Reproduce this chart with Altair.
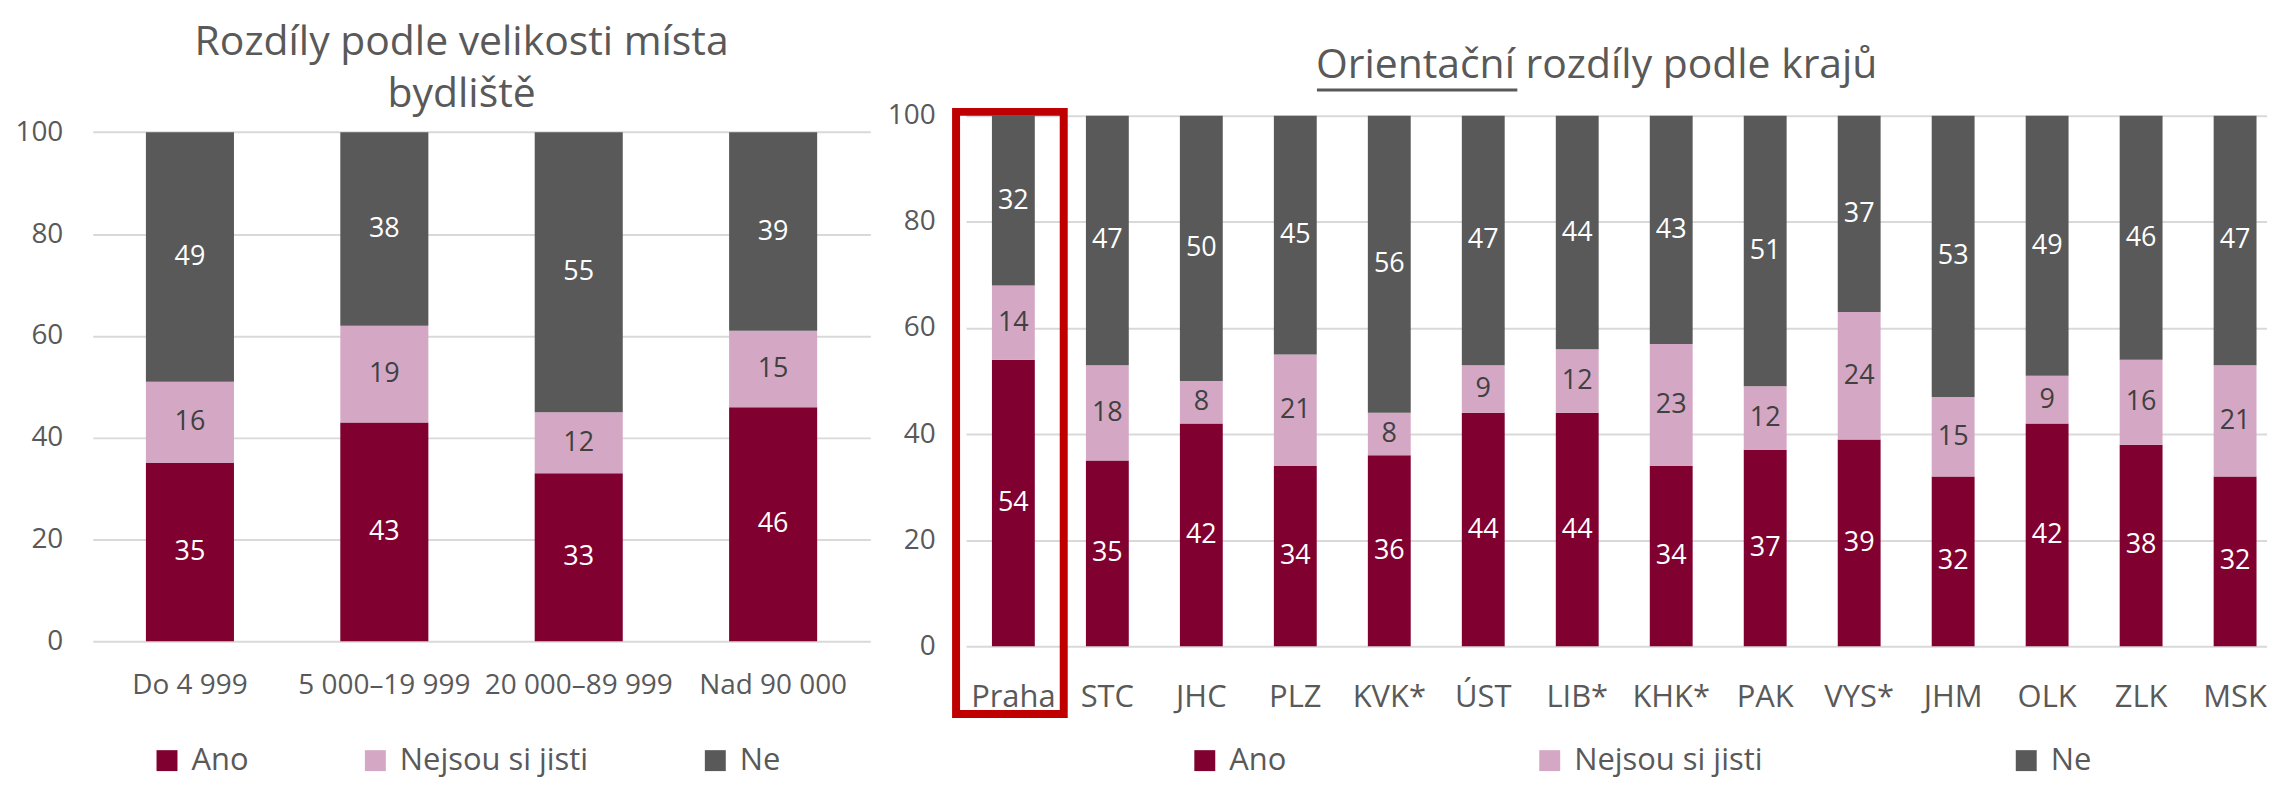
import altair as alt
import pandas as pd

# ---------------- data ----------------
SERIES = ["Ano", "Nejsou si jisti", "Ne"]
SERIES_COLORS = ["#800030", "#D4A8C4", "#595959"]

SIZE_CATEGORIES = ["Do 4 999", "5 000–19 999", "20 000–89 999", "Nad 90 000"]
SIZE_ANO = [35, 43, 33, 46]
SIZE_NEJSOU = [16, 19, 12, 15]
SIZE_NE = [49, 38, 55, 39]

REGION_CATEGORIES = ["Praha", "STC", "JHC", "PLZ", "KVK*", "ÚST", "LIB*",
                     "KHK*", "PAK", "VYS*", "JHM", "OLK", "ZLK", "MSK"]
REGION_ANO = [54, 35, 42, 34, 36, 44, 44, 34, 37, 39, 32, 42, 38, 32]
REGION_NEJSOU = [14, 18, 8, 21, 8, 9, 12, 23, 12, 24, 15, 9, 16, 21]
REGION_NE = [32, 47, 50, 45, 56, 47, 44, 43, 51, 37, 53, 49, 46, 47]

Y_TICKS = [0, 20, 40, 60, 80, 100]

LEFT_TITLE = ["Rozdíly podle velikosti místa", "bydliště"]
RIGHT_TITLE = "Orientační rozdíly podle krajů"
HIGHLIGHT = ["Praha"]

FONT = "Open Sans"
GRAY = "#595959"


def long_df(categories, ano, nejsou, ne):
    rows = []
    for i, c in enumerate(categories):
        for k, (s, vals) in enumerate(zip(SERIES, [ano, nejsou, ne])):
            rows.append({"cat": c, "series": s, "order": k, "value": vals[i]})
    return pd.DataFrame(rows)


def panel(df, cats, width, height, y_max, xscale, x_label_size, x_label_pad,
          y_label_pad, legend_x, legend_y, col_pad, title, extra=()):
    x_axis = alt.Axis(title=None, labelAngle=0, labelFont=FONT,
                      labelFontSize=x_label_size, labelColor=GRAY,
                      labelPadding=x_label_pad, ticks=False, domain=False,
                      grid=False, labelLimit=400)
    y_axis = alt.Axis(title=None, values=Y_TICKS, labelFont=FONT,
                      labelFontSize=28, labelColor=GRAY,
                      labelPadding=y_label_pad, ticks=False, domain=False,
                      grid=True, gridColor="#D9D9D9", gridWidth=2)
    y_scale = alt.Scale(domain=[0, y_max], nice=False, zero=True)
    x_enc = alt.X("cat:N", sort=cats, scale=xscale, axis=x_axis)

    bars = alt.Chart(df).mark_bar().encode(
        x=x_enc,
        y=alt.Y("value:Q", stack="zero", scale=y_scale, axis=y_axis),
        color=alt.Color(
            "series:N", sort=SERIES,
            scale=alt.Scale(domain=SERIES, range=SERIES_COLORS),
            legend=alt.Legend(
                title=None, orient="none", legendX=legend_x, legendY=legend_y,
                direction="horizontal", symbolType="square", symbolSize=441,
                symbolStrokeWidth=0, symbolOpacity=1, labelFont=FONT,
                labelFontSize=31, labelColor=GRAY, labelOffset=9,
                columnPadding=col_pad, padding=0, labelLimit=600),
        ),
        order=alt.Order("order:Q", sort="ascending"),
    )

    labels = alt.Chart(df).transform_stack(
        stack="value", groupby=["cat"], as_=["v0", "v1"],
        sort=[alt.SortField("order", order="ascending")],
    ).transform_calculate(
        mid="(datum.v0 + datum.v1) / 2"
    ).mark_text(font=FONT, fontSize=27).encode(
        x=x_enc,
        y=alt.Y("mid:Q", scale=y_scale, axis=y_axis),
        text=alt.Text("value:Q"),
        color=alt.condition("datum.series == 'Nejsou si jisti'",
                            alt.value("#404040"), alt.value("#FFFFFF")),
    )

    return alt.layer(bars, labels, *extra).properties(
        width=width, height=height, title=title)


size_df = long_df(SIZE_CATEGORIES, SIZE_ANO, SIZE_NEJSOU, SIZE_NE)
region_df = long_df(REGION_CATEGORIES, REGION_ANO, REGION_NEJSOU, REGION_NE)

# left plot area starts a little above the 100 line so both panels share a top
left = panel(
    size_df, SIZE_CATEGORIES, 780, 527, 103.23,
    alt.Scale(paddingInner=0.547, paddingOuter=0.2735),
    28, 30, 30, 59, 631, 111,
    alt.TitleParams(text=LEFT_TITLE, anchor="middle", frame="group", dx=-20,
                    offset=0, fontSize=41, font=FONT, fontWeight="normal",
                    color=GRAY, lineHeight=52),
)

highlight_box = alt.Chart(pd.DataFrame({"cat": HIGHLIGHT})).mark_rect(
    fillOpacity=0, stroke="#C00000", strokeWidth=8
).encode(x=alt.value(-10), x2=alt.value(98), y=alt.value(-4), y2=alt.value(600))

underline = alt.Chart(pd.DataFrame({"cat": HIGHLIGHT})).mark_rule(
    color=GRAY, strokeWidth=3
).encode(x=alt.value(352), x2=alt.value(553), y=alt.value(-26))

right = panel(
    region_df, REGION_CATEGORIES, 1305, 532, 100,
    alt.Scale(paddingInner=0.5439, paddingOuter=0.1936, align=0.712),
    31, 36, 31, 224, 631, 248,
    alt.TitleParams(text=RIGHT_TITLE, anchor="start", frame="group", dx=351,
                    offset=1.5, fontSize=41, font=FONT, fontWeight="normal",
                    color=GRAY),
    extra=(highlight_box, underline),
)

chart = alt.hconcat(left, right, spacing=16).resolve_scale(
    color="independent"
).resolve_legend(color="independent").properties(
    padding={"left": 6, "top": 13, "right": 0, "bottom": 10},
    background="#FFFFFF",
).configure_view(strokeWidth=0)

chart.save("out.html", embed_options={"renderer": "svg", "actions": False})
